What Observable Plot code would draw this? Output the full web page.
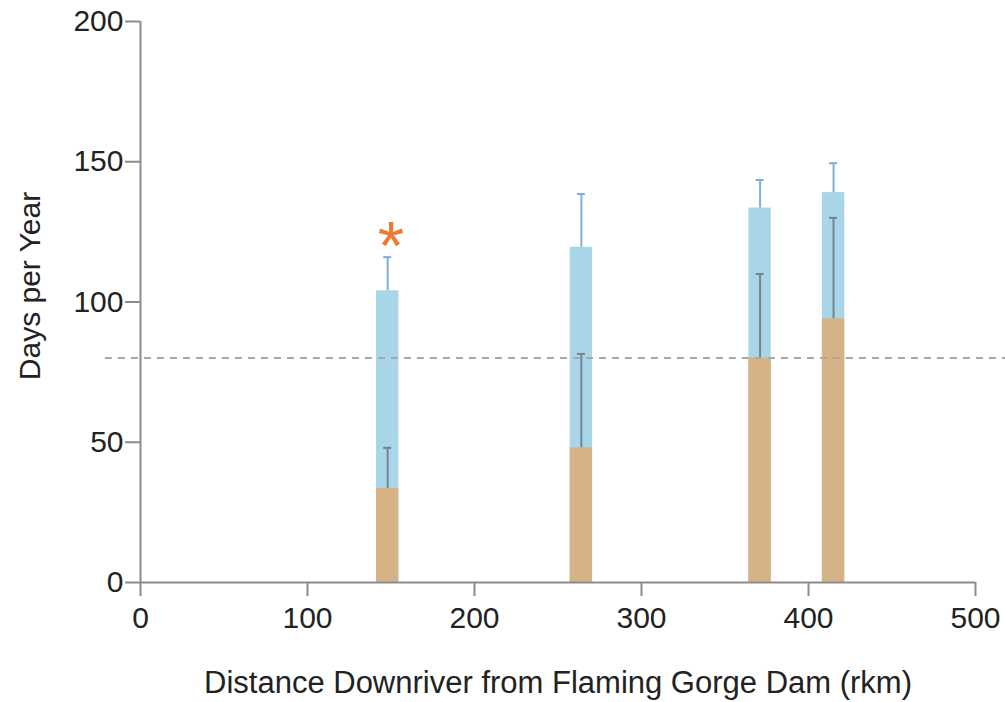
<!DOCTYPE html>
<html><head><meta charset="utf-8">
<script src="https://cdn.jsdelivr.net/npm/d3@7"></script>
<script src="https://cdn.jsdelivr.net/npm/@observablehq/plot@0.6"></script>
<style>body{margin:0;background:#fff;} #chart svg{display:block;}</style>
</head><body><div id="chart"></div>
<script>
const siteKm = [148, 264, 371, 415];
const totalDays = [104, 119.5, 133.5, 139];
const totalErr = [116, 138.5, 143.5, 149.5];
const suitableDays = [33.5, 48, 80, 94];
const suitableErr = [48, 81.5, 110, 130];
const yTicks = [0, 50, 100, 150, 200];
const xTicks = [0, 100, 200, 300, 400, 500];
const threshold = [80];
const starKm = [150];
const starDays = [116];
const xTitle = "Distance Downriver from Flaming Gorge Dam (rkm)";
const yTitle = "Days per Year";

const rows = siteKm.map((km, i) => ({km, total: totalDays[i], totalErr: totalErr[i], low: suitableDays[i], lowErr: suitableErr[i]}));
const stars = starKm.map((km, i) => ({km, days: starDays[i], label: "*"}));
const half = 6.7, cap = 2.4;
const axisColor = "#8c8c8c";
const textColor = "#222";

const chart = Plot.plot({
  width: 1005, height: 702,
  marginLeft: 140, marginRight: 30, marginTop: 21, marginBottom: 120,
  x: {domain: [0, 500]},
  y: {domain: [0, 200]},
  style: {fontFamily: "'Liberation Sans', Arial, sans-serif", background: "#fff", color: textColor},
  marks: [
    Plot.rect(rows, {x1: d => d.km - half, x2: d => d.km + half, y1: 0, y2: "total", fill: "#a8d6e8"}),
    Plot.rect(rows, {x1: d => d.km - half, x2: d => d.km + half, y1: 0, y2: "low", fill: "#d5b386"}),
    Plot.ruleX(rows, {x: "km", y1: "low", y2: "lowErr", stroke: "#75838d", strokeWidth: 2}),
    Plot.ruleY(rows, {y: "lowErr", x1: d => d.km - cap, x2: d => d.km + cap, stroke: "#75838d", strokeWidth: 2}),
    Plot.ruleX(rows, {x: "km", y1: "total", y2: "totalErr", stroke: "#7fb0dc", strokeWidth: 2}),
    Plot.ruleY(rows, {y: "totalErr", x1: d => d.km - cap, x2: d => d.km + cap, stroke: "#7fb0dc", strokeWidth: 2}),
    Plot.ruleY(threshold, {x1: -21, x2: 525, stroke: "#a8a8a8", strokeWidth: 2, strokeDasharray: "7,6", clip: false}),
    Plot.ruleX([0], {y1: 0, y2: 200, stroke: axisColor, strokeWidth: 2}),
    Plot.ruleY([0], {x1: 0, x2: 500, stroke: axisColor, strokeWidth: 2}),
    Plot.axisY(yTicks, {tickSize: 15, tickPadding: 2, fontSize: 30, stroke: axisColor, strokeWidth: 2, fill: textColor, label: null}),
    Plot.axisX(xTicks, {tickSize: 14, tickPadding: 10, fontSize: 30, stroke: axisColor, strokeWidth: 2, fill: textColor, label: null}),
    Plot.text(stars, {x: "km", y: "days", text: "label", fill: "#f07a30", fontSize: 68, lineAnchor: "bottom", dy: 12}),
    Plot.text([xTitle], {frameAnchor: "bottom", lineAnchor: "bottom", dy: 110, fontSize: 31, fill: textColor}),
    Plot.text([yTitle], {frameAnchor: "left", textAnchor: "middle", rotate: -90, dx: -110, dy: -16, fontSize: 30, fill: textColor})
  ]
});
document.getElementById("chart").appendChild(chart);
</script>
</body></html>
